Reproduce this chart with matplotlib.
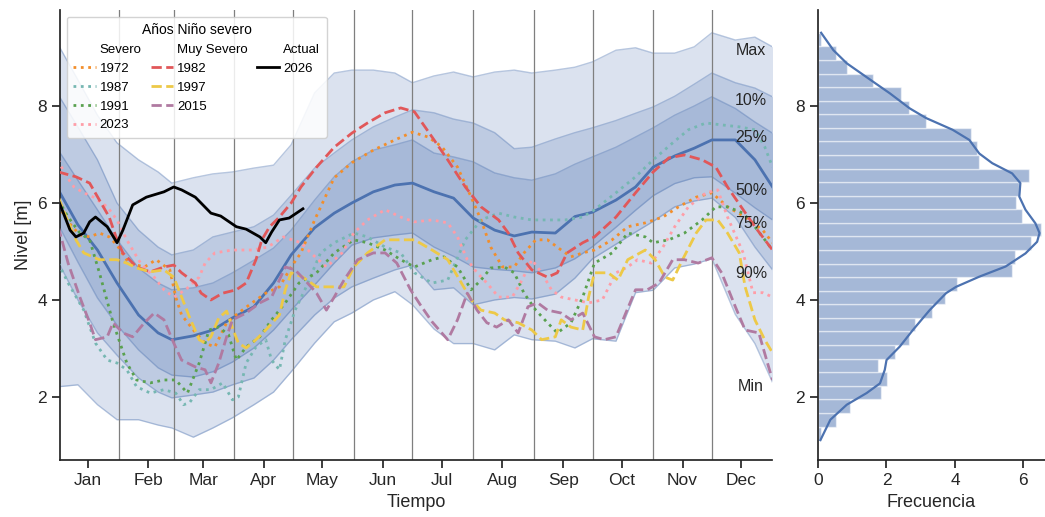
import matplotlib.pyplot as plt
from matplotlib.lines import Line2D
import numpy as np

plt.rcParams['font.family'] = ['Liberation Sans', 'DejaVu Sans']

# ---- percentile bands (day of year) ----
days_q = [1, 11, 21, 31, 42, 52, 59, 70, 80, 90, 101, 111, 120, 132, 142, 151, 162, 173, 182,
          193, 203, 213, 224, 234, 243, 255, 265, 274, 286, 296, 305, 316, 326, 335, 347, 357, 366]
q_max = [9.26, 8.54, 7.81, 7.24, 6.89, 6.64, 6.41, 6.52, 6.60, 6.64, 6.72, 6.78, 7.20, 8.27, 8.68, 8.74, 8.74, 8.68, 8.48,
         8.62, 8.70, 8.60, 8.70, 8.74, 8.68, 8.74, 8.80, 8.91, 9.15, 9.20, 9.09, 9.09, 9.22, 9.51, 9.36, 9.42, 9.22]
q10 = [8.23, 7.57, 6.89, 6.00, 5.44, 5.09, 4.93, 5.03, 5.30, 5.40, 5.51, 5.75, 6.16, 6.72, 7.03, 7.30, 7.57, 7.77, 7.92,
       7.86, 7.73, 7.65, 7.45, 7.12, 7.15, 7.32, 7.45, 7.55, 7.70, 7.85, 7.98, 8.20, 8.45, 8.68, 8.48, 8.37, 8.19]
q25 = [7.09, 6.47, 5.86, 5.24, 4.66, 4.35, 4.21, 4.25, 4.35, 4.56, 4.82, 5.07, 5.44, 6.06, 6.54, 6.85, 7.09, 7.20, 7.30,
       7.03, 6.95, 6.85, 6.62, 6.52, 6.47, 6.60, 6.80, 6.95, 7.15, 7.36, 7.55, 7.81, 8.00, 8.19, 7.95, 7.67, 7.44]
q50 = [6.27, 5.55, 5.03, 4.35, 3.69, 3.32, 3.18, 3.26, 3.38, 3.63, 3.86, 4.35, 4.93, 5.49, 5.79, 6.00, 6.23, 6.37, 6.41,
       6.23, 6.10, 5.69, 5.44, 5.32, 5.40, 5.38, 5.72, 5.81, 6.06, 6.33, 6.74, 6.97, 7.13, 7.30, 7.30, 6.89, 6.33]
q75 = [5.55, 4.78, 4.04, 3.48, 2.97, 2.60, 2.45, 2.41, 2.52, 2.72, 3.01, 3.38, 3.79, 4.31, 4.76, 5.13, 5.28, 5.34, 5.38,
       5.09, 4.90, 4.68, 4.63, 4.60, 4.56, 4.66, 4.85, 5.10, 5.50, 5.85, 6.15, 6.40, 6.52, 6.54, 6.20, 5.90, 5.65]
q90 = [4.78, 4.00, 3.32, 2.86, 2.39, 2.10, 1.98, 2.04, 2.10, 2.25, 2.39, 2.76, 3.18, 3.69, 4.04, 4.27, 4.45, 4.62, 4.72,
       4.21, 4.25, 3.90, 4.00, 4.05, 4.02, 4.12, 4.45, 4.85, 5.15, 5.40, 5.62, 5.92, 6.04, 6.10, 5.70, 5.09, 4.62]
q_min = [2.21, 2.25, 1.84, 1.53, 1.53, 1.42, 1.36, 1.17, 1.36, 1.57, 1.84, 2.10, 2.52, 3.11, 3.55, 3.73, 4.00, 4.17, 3.90,
         3.40, 3.10, 3.10, 2.97, 3.28, 3.18, 3.15, 3.01, 3.20, 3.15, 4.15, 4.20, 4.66, 4.74, 4.85, 3.70, 3.10, 2.30]

# ---- Niño years ----
d1972 = [1, 6, 12, 17, 22, 27, 31, 37, 45, 51, 58, 61, 64, 70, 76, 81, 87, 93, 100, 107, 114, 120, 125, 132, 142, 151, 162,
         173, 182, 190, 197, 205, 212, 217, 222, 228, 234, 239, 245, 251, 258, 263, 269, 275, 284, 292, 301, 310, 318, 327,
         335, 343, 352, 361, 366]
v1972 = [5.96, 5.61, 5.34, 5.30, 5.38, 5.30, 5.13, 4.76, 4.68, 4.83, 4.62, 4.06, 3.69, 3.38, 3.11, 3.03, 3.53, 3.73, 3.94,
         4.14, 4.27, 4.68, 4.97, 5.65, 6.52, 6.83, 7.09, 7.30, 7.46, 7.36, 7.16, 6.74, 6.12, 5.65, 5.09, 4.68, 4.68, 4.97,
         5.24, 5.24, 5.03, 4.89, 4.97, 5.03, 5.24, 5.51, 5.59, 5.71, 5.92, 6.12, 6.21, 5.92, 5.71, 5.44, 5.18]

d1987 = [1, 6, 14, 20, 26, 31, 36, 41, 48, 55, 61, 65, 68, 73, 79, 85, 90, 93, 97, 102, 107, 110, 114, 117, 122, 127, 135,
         142, 152, 159, 168, 176, 183, 192, 200, 209, 217, 226, 234, 243, 251, 260, 269, 275, 286, 296, 305, 315, 323, 332,
         340, 349, 357, 362, 366]
v1987 = [4.76, 4.35, 3.79, 3.11, 2.76, 2.70, 2.56, 2.21, 2.08, 2.15, 2.08, 1.84, 1.88, 2.15, 2.15, 2.29, 1.94, 2.00, 2.70,
         3.03, 3.18, 2.76, 2.56, 3.18, 3.79, 4.21, 4.97, 5.18, 5.38, 5.30, 5.09, 4.97, 4.56, 4.35, 4.41, 5.24, 5.65, 5.79,
         5.71, 5.65, 5.65, 5.65, 5.71, 5.86, 6.21, 6.54, 6.89, 7.24, 7.51, 7.65, 7.61, 7.57, 7.51, 7.16, 6.74]

d1991 = [1, 6, 12, 17, 22, 29, 36, 41, 48, 55, 61, 67, 73, 78, 83, 88, 92, 97, 104, 110, 117, 124, 133, 142, 152, 159, 168,
         176, 183, 192, 198, 205, 212, 217, 222, 229, 234, 239, 245, 251, 256, 263, 269, 275, 284, 292, 301, 305, 313, 321,
         330, 337, 343, 351, 357, 366]
v1991 = [6.06, 5.71, 5.38, 5.24, 4.56, 3.53, 2.70, 2.35, 2.29, 2.35, 2.35, 2.08, 2.70, 3.38, 3.44, 3.28, 2.76, 3.03, 3.24,
         3.59, 3.94, 4.35, 4.56, 4.97, 5.24, 5.18, 5.03, 4.83, 4.68, 4.83, 4.89, 4.68, 4.21, 4.41, 4.66, 4.68, 4.56, 4.14,
         3.79, 3.53, 3.32, 3.53, 4.06, 4.76, 4.97, 5.38, 5.30, 5.18, 5.24, 5.38, 5.65, 5.92, 5.92, 5.79, 5.51, 5.03]

d2023 = [1, 4, 9, 14, 19, 26, 31, 36, 43, 50, 55, 60, 66, 73, 76, 81, 90, 100, 108, 116, 125, 130, 138, 146, 152, 159, 168,
         176, 183, 192, 200, 205, 210, 215, 220, 226, 233, 238, 243, 248, 253, 258, 265, 272, 279, 286, 292, 297, 304, 310,
         316, 323, 332, 338, 343, 351, 356, 361, 366]
v2023 = [6.89, 6.62, 6.33, 6.21, 6.12, 5.92, 5.65, 5.24, 4.76, 4.47, 4.21, 4.06, 4.21, 4.47, 4.76, 4.97, 5.03, 5.03, 5.09,
         5.30, 5.18, 4.97, 4.68, 4.97, 5.38, 5.65, 5.86, 5.71, 5.61, 5.65, 5.59, 5.30, 4.83, 4.56, 4.35, 4.06, 4.06, 4.41,
         4.83, 4.56, 4.21, 4.06, 4.00, 3.94, 4.00, 4.56, 4.68, 4.83, 4.76, 5.09, 5.51, 5.92, 6.21, 6.27, 5.71, 4.97, 4.15,
         4.15, 4.06]

d1982 = [1, 10, 17, 22, 27, 31, 34, 41, 48, 55, 60, 64, 71, 74, 79, 85, 92, 97, 102, 105, 109, 114, 120, 125, 133, 142, 151,
         159, 168, 176, 183, 192, 200, 209, 217, 226, 231, 236, 243, 251, 256, 261, 269, 275, 286, 296, 305, 313, 321, 330,
         337, 343, 351, 357, 366]
v1982 = [6.64, 6.54, 6.41, 6.06, 5.71, 5.24, 4.97, 4.68, 4.58, 4.68, 4.72, 4.56, 4.35, 4.14, 4.00, 4.14, 4.21, 4.35, 4.83,
         5.24, 5.51, 5.71, 6.00, 6.33, 6.74, 7.15, 7.44, 7.65, 7.86, 7.96, 7.88, 7.36, 6.89, 6.33, 5.92, 5.65, 5.38, 4.97,
         4.62, 4.47, 4.56, 4.97, 5.18, 5.30, 5.71, 6.21, 6.64, 6.93, 6.99, 6.89, 6.74, 6.33, 5.86, 5.51, 5.03]

d1997 = [1, 5, 10, 14, 22, 31, 36, 41, 48, 55, 60, 64, 68, 73, 76, 79, 83, 87, 90, 93, 97, 102, 107, 114, 117, 120, 126,
         133, 142, 147, 152, 159, 168, 176, 183, 192, 200, 207, 212, 217, 224, 229, 236, 243, 248, 255, 258, 263, 269, 272,
         275, 282, 287, 292, 301, 306, 311, 315, 320, 327, 332, 338, 343, 349, 352, 357, 362, 366]
v1997 = [6.12, 5.71, 5.24, 4.97, 4.83, 4.83, 4.76, 4.66, 4.58, 4.62, 4.47, 4.06, 3.65, 3.18, 3.11, 3.24, 3.63, 3.77, 3.42,
         3.11, 3.01, 3.18, 3.38, 3.69, 4.21, 4.56, 4.47, 4.27, 4.27, 4.27, 4.68, 4.97, 5.24, 5.24, 5.24, 5.03, 4.83, 4.35,
         4.00, 3.79, 3.73, 3.59, 3.53, 3.38, 3.18, 3.24, 3.59, 3.44, 3.38, 4.06, 4.56, 4.56, 4.41, 4.83, 5.03, 4.83, 4.47,
         4.41, 4.83, 5.38, 5.65, 5.65, 5.38, 4.97, 4.27, 3.59, 3.18, 2.91]

d2015 = [1, 6, 12, 17, 20, 26, 29, 34, 39, 45, 50, 55, 60, 64, 71, 76, 79, 83, 87, 90, 97, 104, 110, 117, 122, 127, 133,
         138, 142, 147, 154, 162, 168, 174, 181, 186, 192, 200, 205, 210, 215, 220, 225, 231, 236, 241, 246, 251, 258, 263,
         269, 275, 280, 286, 291, 296, 302, 308, 315, 321, 328, 335, 340, 347, 352, 359, 364, 366]
v2015 = [5.51, 4.76, 4.06, 3.53, 3.18, 3.24, 3.53, 3.32, 3.24, 3.53, 3.73, 3.59, 3.11, 2.76, 2.62, 2.56, 2.29, 2.70, 3.24,
         3.59, 3.73, 3.94, 4.06, 4.68, 4.62, 4.41, 4.14, 3.79, 4.06, 4.41, 4.83, 4.97, 4.97, 4.76, 4.21, 3.90, 3.55, 3.18,
         3.59, 4.14, 3.79, 3.53, 3.44, 3.59, 3.32, 3.86, 3.94, 3.79, 3.73, 3.59, 3.73, 3.24, 3.18, 3.24, 3.73, 4.21, 4.21,
         4.35, 4.83, 4.83, 4.76, 4.87, 4.56, 3.86, 3.38, 3.32, 2.62, 2.35]

d2026 = [1, 4, 7, 10, 14, 17, 20, 26, 31, 34, 39, 46, 55, 60, 64, 71, 79, 84, 92, 97, 104, 107, 110, 114, 119, 126]
v2026 = [6.06, 5.75, 5.44, 5.30, 5.38, 5.61, 5.71, 5.51, 5.18, 5.44, 5.96, 6.12, 6.23, 6.33, 6.27, 6.12, 5.79, 5.73, 5.51,
         5.46, 5.30, 5.18, 5.40, 5.65, 5.69, 5.88]

# ---- histogram of levels ----
hist_freq = [0.10, 0.53, 0.94, 1.83, 2.02, 1.76, 2.24, 2.66, 2.82, 3.33, 3.72, 4.06, 5.67, 5.75, 6.22, 6.52, 5.96, 5.79,
             5.86, 6.15, 4.71, 4.63, 4.46, 3.14, 2.65, 2.43, 1.61, 0.86, 0.53, 0.09]
kde_level = [1.11, 1.53, 1.84, 2.08, 2.28, 2.56, 2.76, 3.04, 3.38, 3.79, 4.14, 4.27, 4.48, 4.69, 4.96, 5.20, 5.38, 5.58,
             5.86, 6.13, 6.41, 6.61, 6.82, 7.02, 7.30, 7.51, 7.75, 7.95, 8.26, 8.50, 8.88, 9.15, 9.51]
kde_freq = [0.07, 0.36, 0.84, 1.42, 1.81, 1.95, 2.00, 2.39, 2.77, 3.26, 3.74, 4.03, 4.71, 5.48, 6.06, 6.40, 6.47, 6.35,
            6.06, 5.88, 5.91, 5.67, 5.09, 4.71, 4.42, 3.93, 3.16, 2.68, 2.10, 1.61, 0.84, 0.45, 0.09]
hist_start = 1.11
hist_width = 0.28

months = ['Jan', 'Feb', 'Mar', 'Apr', 'May', 'Jun', 'Jul', 'Aug', 'Sep', 'Oct', 'Nov', 'Dec']
month_start = [1, 32, 60, 91, 121, 152, 182, 213, 244, 274, 305, 335]

blue = '#4C72B0'
dark = '#262626'

fig = plt.figure(figsize=(10.45, 5.17), dpi=100)
ax = fig.add_axes([0.0574, 0.1103, 0.6813, 0.8704])
axh = fig.add_axes([0.7828, 0.1103, 0.2172, 0.8704])

# bands
ax.fill_between(days_q, q_min, q_max, color=blue, alpha=0.2, lw=0, zorder=1)
ax.fill_between(days_q, q90, q10, color=blue, alpha=0.2, lw=0, zorder=1)
ax.fill_between(days_q, q75, q25, color=blue, alpha=0.2, lw=0, zorder=1)
for q in [q_max, q10, q25, q75, q90, q_min]:
    ax.plot(days_q, q, color=blue, alpha=0.4, lw=1, zorder=1.2)
ax.plot(days_q, q50, color=blue, lw=2, zorder=2)

for d in month_start[1:]:
    ax.axvline(d, color='#7f7f7f', lw=0.9, zorder=1.5)

# percentile labels at the end of each curve
for txt, q in [('Max', q_max), ('10%', q10), ('25%', q25), ('50%', q50), ('75%', q75), ('90%', q90), ('Min', q_min)]:
    ax.text(355, q[-1] - 0.08, txt, ha='center', va='center', fontsize=11.5, color=dark, zorder=5)

l1972, = ax.plot(d1972, v1972, color='#F28E2B', ls=':', lw=2, zorder=3)
l1987, = ax.plot(d1987, v1987, color='#76B7B2', ls=':', lw=2, zorder=3)
l1991, = ax.plot(d1991, v1991, color='#59A14F', ls=':', lw=2, zorder=3)
l2023, = ax.plot(d2023, v2023, color='#FF9DA7', ls=':', lw=2, zorder=3)
l1982, = ax.plot(d1982, v1982, color='#E15759', ls='--', lw=2, zorder=3)
l1997, = ax.plot(d1997, v1997, color='#EDC948', ls='--', lw=2, zorder=3)
l2015, = ax.plot(d2015, v2015, color='#B07AA1', ls='--', lw=2, zorder=3)
l2026, = ax.plot(d2026, v2026, color='black', lw=2, zorder=4)

blank = Line2D([], [], color='none')
handles = [blank, l1972, l1987, l1991, l2023,
           blank, l1982, l1997, l2015, blank,
           blank, l2026, blank, blank, blank]
labels = ['Severo', '1972', '1987', '1991', '2023',
          'Muy Severo', '1982', '1997', '2015', '',
          'Actual', '2026', '', '', '']
leg = ax.legend(handles, labels, ncol=3, loc='upper left', title='Años Niño severo',
                fontsize=9.5, title_fontsize=10, handlelength=1.7, columnspacing=0.7,
                labelspacing=0.5, handletextpad=0.3, framealpha=0.85, edgecolor='#cccccc',
                borderpad=0.5)
leg.set_zorder(6)

ax.set_xlim(1.85, 365.7)
ax.set_ylim(0.70, 9.98)
ax.set_xticks([m + 15 for m in month_start])
ax.set_xticklabels(months)
ax.set_yticks([2, 4, 6, 8])
ax.set_xlabel('Tiempo', fontsize=13, color=dark)
ax.set_ylabel('Nivel [m]', fontsize=13, color=dark)

# histogram
hist_lo = hist_start + hist_width * np.arange(len(hist_freq))
axh.barh(hist_lo, hist_freq, height=hist_width, align='edge', color=blue, alpha=0.5,
         edgecolor='white', lw=1)
axh.plot(kde_freq, kde_level, color=blue, lw=1.6)
axh.set_xlim(0, 6.63)
axh.set_ylim(0.70, 9.98)
axh.set_xticks([0, 2, 4, 6])
axh.set_yticks([2, 4, 6, 8])
axh.set_xlabel('Frecuencia', fontsize=13, color=dark)

for a in [ax, axh]:
    a.spines['top'].set_visible(False)
    a.spines['right'].set_visible(False)
    for s in ['left', 'bottom']:
        a.spines[s].set_linewidth(1.25)
        a.spines[s].set_color(dark)
    a.tick_params(length=6, width=1.25, color=dark, labelsize=12.5, labelcolor=dark)

fig.savefig('out.png', dpi=100)
